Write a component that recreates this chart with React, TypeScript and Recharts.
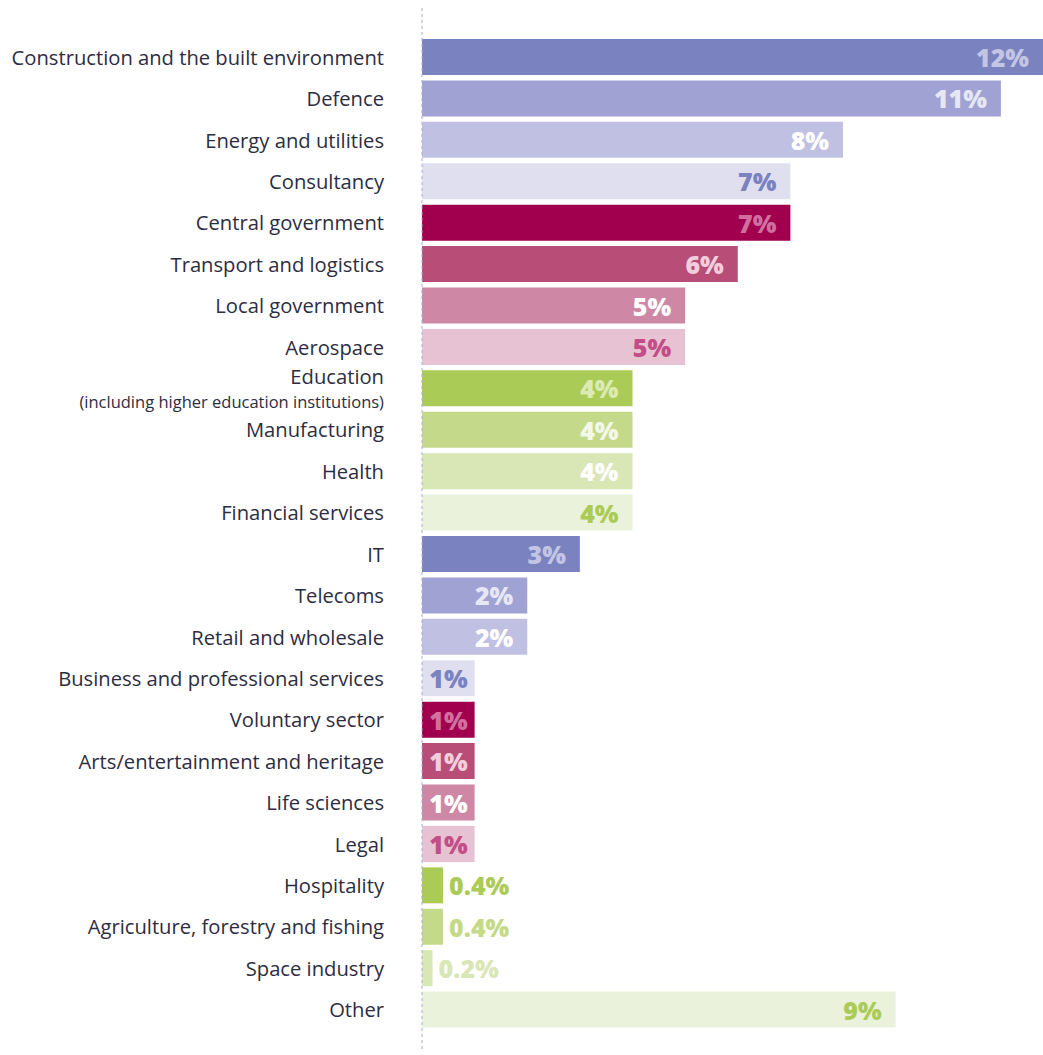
import React from 'react';
import { BarChart, Bar, XAxis, YAxis, Cell, LabelList } from 'recharts';

const categories = [
  'Construction and the built environment',
  'Defence',
  'Energy and utilities',
  'Consultancy',
  'Central government',
  'Transport and logistics',
  'Local government',
  'Aerospace',
  'Education',
  'Manufacturing',
  'Health',
  'Financial services',
  'IT',
  'Telecoms',
  'Retail and wholesale',
  'Business and professional services',
  'Voluntary sector',
  'Arts/entertainment and heritage',
  'Life sciences',
  'Legal',
  'Hospitality',
  'Agriculture, forestry and fishing',
  'Space industry',
  'Other',
];

const shares = [11.8, 11, 8, 7, 7, 6, 5, 5, 4, 4, 4, 4, 3, 2, 2, 1, 1, 1, 1, 1, 0.4, 0.4, 0.2, 9];

const shareLabels = [
  '12%', '11%', '8%', '7%', '7%', '6%', '5%', '5%', '4%', '4%', '4%', '4%',
  '3%', '2%', '2%', '1%', '1%', '1%', '1%', '1%', '0.4%', '0.4%', '0.2%', '9%',
];

// palette cycles purple -> magenta -> green, 4 shades each
const barColors = [
  '#7b82c0', '#a0a2d3', '#bfc0e2', '#dfdff0',
  '#a0004e', '#b84d78', '#cf87a6', '#e6c2d2',
  '#abcb57', '#c4da8a', '#d9e6b6', '#eaf2dc',
];
const labelColors = [
  '#c3c5e4', '#e6e7f5', '#ffffff', '#7b82c0',
  '#d06fa0', '#f2cddd', '#ffffff', '#c34d86',
  '#dcebb4', '#f4f8e8', '#ffffff', '#abcb57',
];
const outsideColors = [
  '#7b82c0', '#a0a2d3', '#bfc0e2', '#dfdff0',
  '#a0004e', '#b84d78', '#cf87a6', '#e6c2d2',
  '#abcb57', '#c4da8a', '#d9e6b6', '#abcb57',
];
const colorIndex = [0, 1, 2, 3, 4, 5, 6, 7, 8, 9, 10, 11, 0, 1, 2, 3, 4, 5, 6, 7, 8, 9, 10, 11];

const data = categories.map((name, i) => ({
  name,
  value: shares[i],
  label: shareLabels[i],
  ci: colorIndex[i],
}));

const FONT = '"Open Sans", "Noto Sans", sans-serif';

const CategoryTick = (props: any) => {
  const { y, payload } = props;
  if (payload.value === 'Education') {
    return (
      <g>
        <text x={384} y={y - 12} textAnchor="end" dominantBaseline="central" fontFamily={FONT} fontSize={20.2} fill="#2d2d3f">
          Education
        </text>
        <text x={384} y={y + 13} textAnchor="end" dominantBaseline="central" fontFamily={FONT} fontSize={16.5} fill="#2d2d3f">
          (including higher education institutions)
        </text>
      </g>
    );
  }
  return (
    <text x={384} y={y} textAnchor="end" dominantBaseline="central" fontFamily={FONT} fontSize={20.2} fill="#2d2d3f">
      {payload.value}
    </text>
  );
};

const ValueLabel = (props: any) => {
  const { x, y, width, height, index } = props;
  const d = data[index];
  const cy = y + height / 2;
  if (d.value < 1) {
    return (
      <text x={x + width + 6} y={cy} textAnchor="start" dominantBaseline="central" fontFamily={FONT} fontWeight={800} fontSize={25} fill={outsideColors[d.ci]}>
        {d.label}
      </text>
    );
  }
  const pad = width < 60 ? 7 : 14;
  return (
    <text x={x + width - pad} y={cy} textAnchor="end" dominantBaseline="central" fontFamily={FONT} fontWeight={800} fontSize={25} fill={labelColors[d.ci]}>
      {d.label}
    </text>
  );
};

export default function App() {
  return (
    <div style={{ width: 1043, height: 1055, background: '#ffffff' }}>
      <style>{'body{margin:0}'}</style>
      <BarChart
        width={1043}
        height={1055}
        data={data}
        layout="vertical"
        margin={{ top: 8, right: 0, bottom: 5, left: 0 }}
      >
        <XAxis type="number" hide domain={[0, 11.8]} />
        <YAxis
          type="category"
          dataKey="name"
          width={422}
          tick={<CategoryTick />}
          tickLine={false}
          axisLine={{ stroke: '#a9abd8', strokeDasharray: '3 3', strokeWidth: 1 }}
          padding={{ top: 28, bottom: 20 }}
          interval={0}
        />
        <Bar dataKey="value" barSize={36} isAnimationActive={false}>
          {data.map((d, i) => (
            <Cell key={`c-${i}`} fill={barColors[d.ci]} />
          ))}
          <LabelList dataKey="value" content={<ValueLabel />} />
        </Bar>
      </BarChart>
    </div>
  );
}
